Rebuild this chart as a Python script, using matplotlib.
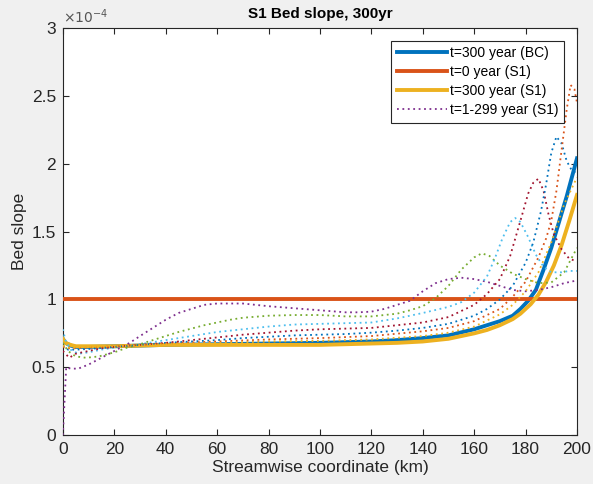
import matplotlib.pyplot as plt
import numpy as np

plt.rcParams['font.family'] = ['Liberation Sans', 'DejaVu Sans']

# bed slope values are in units of 1e-4
x_bc = [0, 1, 3, 5, 10, 20, 30, 40, 60, 80, 100, 110, 120, 130, 140, 150, 160, 165,
        170, 175, 178, 181, 184, 187, 190, 193, 196, 198, 200]
s_bc = [0.71, 0.68, 0.66, 0.65, 0.65, 0.655, 0.66, 0.665, 0.67, 0.675, 0.68, 0.685, 0.69,
        0.70, 0.715, 0.735, 0.78, 0.81, 0.84, 0.88, 0.93, 0.99, 1.07, 1.22, 1.38, 1.57,
        1.76, 1.90, 2.04]

x_s1_0 = [0, 200]
s_s1_0 = [1.0, 1.0]

x_s1_300 = [0, 1, 3, 5, 10, 20, 30, 40, 60, 80, 100, 110, 120, 130, 140, 150, 160, 165,
            170, 175, 178, 182, 185, 188, 191, 194, 197, 200]
s_s1_300 = [0.71, 0.68, 0.665, 0.655, 0.655, 0.655, 0.66, 0.665, 0.665, 0.665, 0.665,
            0.67, 0.675, 0.68, 0.69, 0.71, 0.75, 0.775, 0.81, 0.855, 0.895, 0.965, 1.035,
            1.13, 1.25, 1.40, 1.58, 1.77]

# intermediate years (dotted), in plotting order
x_mid = [
    [0, 1.3, 3, 6, 10, 14, 18, 22, 26, 30, 35, 40, 45, 50, 55, 60, 65, 70, 75, 80, 90,
     100, 110, 115, 120, 125, 130, 135, 140, 145, 150, 155, 160, 165, 170, 175, 180,
     185, 190, 195, 200],
    [0, 2, 5, 9, 14, 20, 25, 30, 35, 40, 45, 50, 55, 60, 65, 70, 80, 90, 100, 110, 120,
     130, 135, 140, 145, 150, 155, 160, 163, 166, 170, 175, 180, 185, 190, 195, 200],
    [0, 1, 3, 6, 10, 15, 20, 25, 30, 40, 50, 60, 70, 80, 90, 100, 110, 120, 130, 140,
     150, 155, 160, 165, 168, 171, 174, 176, 178, 181, 184, 187, 190, 194, 197, 200],
    [0, 1, 2.5, 5, 10, 15, 20, 25, 30, 40, 50, 60, 70, 80, 90, 100, 110, 120, 130, 140,
     150, 160, 165, 170, 174, 178, 181, 183, 185, 187, 189, 191, 194, 197, 200],
    [0, 2, 5, 10, 20, 30, 40, 50, 60, 70, 80, 90, 100, 110, 120, 130, 140, 150, 160,
     165, 170, 175, 180, 183, 186, 188, 190, 192, 194, 196, 198, 200],
    [0, 2, 5, 10, 20, 30, 40, 60, 80, 100, 120, 140, 150, 160, 170, 175, 180, 185, 188,
     190, 192, 194, 196, 197.5, 199, 200],
    [0, 2, 5, 10, 20, 40, 60, 80, 100, 120, 140, 150, 160, 170, 175, 180, 185, 190, 195,
     200],
]
s_mid = [
    [0, 0.5, 0.49, 0.49, 0.52, 0.56, 0.60, 0.64, 0.68, 0.73, 0.79, 0.85, 0.90, 0.93,
     0.96, 0.97, 0.97, 0.97, 0.96, 0.95, 0.935, 0.92, 0.905, 0.905, 0.91, 0.93, 0.96,
     0.99, 1.06, 1.12, 1.15, 1.16, 1.15, 1.13, 1.10, 1.07, 1.06, 1.07, 1.09, 1.12, 1.14],
    [0.68, 0.62, 0.58, 0.57, 0.58, 0.61, 0.645, 0.67, 0.70, 0.73, 0.76, 0.785, 0.81,
     0.83, 0.85, 0.865, 0.88, 0.885, 0.885, 0.875, 0.875, 0.895, 0.92, 0.95, 1.01, 1.10,
     1.22, 1.31, 1.34, 1.32, 1.25, 1.19, 1.15, 1.12, 1.125, 1.20, 1.38],
    [0.78, 0.70, 0.63, 0.60, 0.61, 0.63, 0.645, 0.66, 0.67, 0.70, 0.73, 0.76, 0.78,
     0.80, 0.815, 0.82, 0.825, 0.83, 0.86, 0.90, 0.945, 0.98, 1.05, 1.17, 1.30, 1.45,
     1.57, 1.60, 1.57, 1.46, 1.33, 1.24, 1.20, 1.20, 1.21, 1.21],
    [0.62, 0.60, 0.57, 0.60, 0.62, 0.64, 0.65, 0.66, 0.665, 0.68, 0.70, 0.72, 0.74,
     0.755, 0.77, 0.78, 0.785, 0.79, 0.81, 0.83, 0.87, 0.96, 1.04, 1.15, 1.32, 1.58,
     1.78, 1.86, 1.89, 1.80, 1.62, 1.48, 1.37, 1.30, 1.28],
    [0.66, 0.63, 0.63, 0.635, 0.65, 0.665, 0.68, 0.69, 0.70, 0.715, 0.725, 0.735, 0.74,
     0.745, 0.755, 0.77, 0.79, 0.82, 0.88, 0.93, 1.00, 1.10, 1.27, 1.42, 1.65, 1.85,
     2.08, 2.20, 2.15, 2.02, 1.95, 1.93],
    [0.65, 0.64, 0.64, 0.645, 0.655, 0.665, 0.675, 0.69, 0.705, 0.715, 0.73, 0.765,
     0.79, 0.84, 0.93, 1.02, 1.13, 1.31, 1.45, 1.58, 1.80, 2.10, 2.40, 2.58, 2.55, 2.45],
    [0.66, 0.645, 0.645, 0.65, 0.655, 0.67, 0.68, 0.69, 0.695, 0.705, 0.73, 0.755, 0.80,
     0.89, 0.96, 1.06, 1.20, 1.42, 1.70, 1.90],
]

c_blue = '#0072BD'
c_orange = '#D95319'
c_yellow = '#EDB120'
mid_colors = ['#7E2F8E', '#77AC30', '#4DBEEE', '#A2142F', '#0072BD', '#D95319', '#EDB120']
axis_col = '#262626'

fig = plt.figure(figsize=(5.93, 4.84), dpi=100, facecolor='#F0F0F0')
ax = fig.add_axes([0.106, 0.101, 0.867, 0.841])

ax.plot(x_bc, s_bc, color=c_blue, lw=2.8, label='t=300 year (BC)', zorder=3)
ax.plot(x_s1_0, s_s1_0, color=c_orange, lw=2.8, label='t=0 year (S1)', zorder=3)
ax.plot(x_s1_300, s_s1_300, color=c_yellow, lw=2.8, label='t=300 year (S1)', zorder=3)
for i in range(len(x_mid)):
    lab = 't=1-299 year (S1)' if i == 0 else None
    ax.plot(x_mid[i], s_mid[i], color=mid_colors[i], lw=1.3, ls=(0, (1, 2.0)),
            label=lab, zorder=4)

ax.set_xlim(0, 200)
ax.set_ylim(0, 3)
ax.set_xticks(np.arange(0, 201, 20))
ax.set_yticks([0, 0.5, 1, 1.5, 2, 2.5, 3])
ax.set_yticklabels(['0', '0.5', '1', '1.5', '2', '2.5', '3'])
ax.tick_params(direction='in', top=True, right=True, length=4, width=0.8,
               colors=axis_col, labelsize=12.5, pad=5)
for sp in ax.spines.values():
    sp.set_color(axis_col)
    sp.set_linewidth(0.8)

ax.set_xlabel('Streamwise coordinate (km)', fontsize=12.5, color=axis_col, labelpad=2)
ax.set_ylabel('Bed slope', fontsize=12.5, color=axis_col, labelpad=3)
ax.set_title('S1 Bed slope, 300yr', fontsize=11, fontweight='bold', color='black', pad=7)
ax.text(0, 1.006, r'$\times10^{-4}$', transform=ax.transAxes, fontsize=10,
        color='#555555', ha='left', va='bottom')

leg = ax.legend(loc='upper right', fontsize=10, frameon=True, fancybox=False,
                edgecolor=axis_col, framealpha=1, borderaxespad=0.9,
                handlelength=3.6, handletextpad=0.25, borderpad=0.4, labelspacing=0.36)
leg.get_frame().set_linewidth(0.8)

fig.savefig('out.png', dpi=100, facecolor=fig.get_facecolor())
